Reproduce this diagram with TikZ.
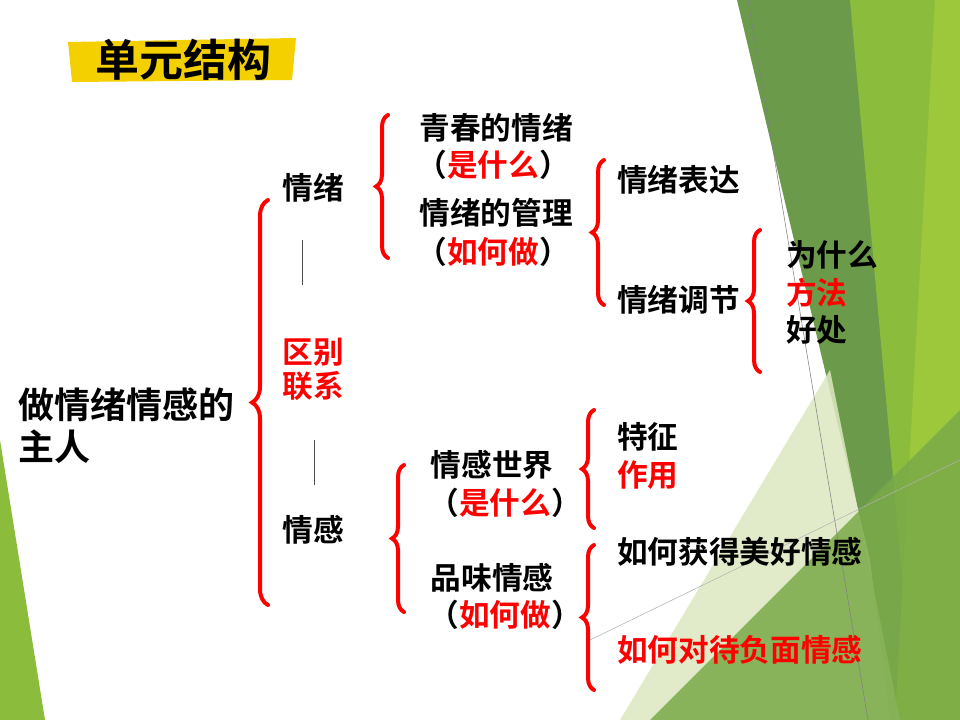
\documentclass[tikz,border=0pt]{standalone}
\usepackage{fontspec}
\setmainfont{Noto Sans CJK SC}[BoldFont={Noto Sans CJK SC Bold}]
\usetikzlibrary{decorations.pathreplacing}
\definecolor{dkgreen}{HTML}{6B9A4A}
\definecolor{ltgreen}{HTML}{8CBC3C}
\definecolor{brgreen}{HTML}{9DC83C}
\definecolor{pale}{HTML}{DDE8C0}
\definecolor{mdgreen}{HTML}{7AAA48}
\definecolor{hl}{HTML}{F5D000}
\begin{document}
\begin{tikzpicture}
[x=0.75pt,y=-0.75pt,
txt/.style={font=\bfseries\fontsize{23}{26}\selectfont,inner sep=0pt},
lt/.style={txt,anchor=west},
hot/.style={text=red},
brc/.style={draw=red,line width=3pt,line cap=round,
  decorate,decoration={brace,amplitude=9pt}},
sep/.style={draw=black!70,thin}]

\useasboundingbox (0,0) rectangle (960,720);
\fill[white] (0,0) rectangle (960,720);

% background
\fill[dkgreen] (737,0) -- (960,0) -- (960,720) -- (890,720) -- (870,560) -- cycle;
\fill[ltgreen] (850,0) -- (960,0) -- (960,720) -- (915,720) -- cycle;
\fill[brgreen] (935,0) -- (960,0) -- (960,720) -- (895,720) -- cycle;
\fill[pale,opacity=0.85] (620,720) -- (830,370) -- (900,720) -- cycle;
\fill[mdgreen,opacity=0.85] (650,720) -- (960,410) -- (960,720) -- cycle;
\draw[gray,thin] (748,0) -- (868,720);
\draw[gray!60,thin] (590,640) -- (960,460);
\fill[ltgreen] (0,440) -- (45,720) -- (0,720) -- cycle;

% title
\fill[hl] (68,42) -- (296,38) -- (292,80) -- (72,82) -- cycle;
\node[font=\bfseries\fontsize{33}{36}\selectfont] (title) at (183,60) {单元结构};

% tree
\node[lt,font=\bfseries\fontsize{27}{30}\selectfont] (root1) at (18,405) {做情绪情感的};
\node[lt,font=\bfseries\fontsize{27}{30}\selectfont] (root2) at (18,447) {主人};
\node[txt] (qx) at (313,188) {情绪};
\node[txt,hot] (qb) at (313,352) {区别};
\node[txt,hot] (lx) at (313,386) {联系};
\node[txt] (qg) at (313,530) {情感};
\draw[sep] (302,240) -- (302,285);
\draw[sep] (314,440) -- (314,485);

\node[txt] (qc) at (496,128) {青春的情绪};
\node[txt] (qc2) at (493,165) {（{\color{red}是什么}）};
\node[txt] (gl) at (496,213) {情绪的管理};
\node[txt] (gl2) at (493,252) {（{\color{red}如何做}）};

\node[lt] (bd) at (617,180) {情绪表达};
\node[lt] (tj) at (617,300) {情绪调节};
\node[lt] (wsm) at (786,255) {为什么};
\node[lt,hot] (ff) at (786,293) {方法};
\node[lt] (hc) at (786,330) {好处};

\node[txt] (sj) at (492,465) {情感世界};
\node[txt] (sj2) at (505,503) {（{\color{red}是什么}）};
\node[txt] (pw) at (492,578) {品味情感};
\node[txt] (pw2) at (505,615) {（{\color{red}如何做}）};

\node[lt] (tz) at (617,437) {特征};
\node[lt,hot] (zy) at (617,475) {作用};
\node[lt] (hd) at (617,552) {如何获得美好情感};
\node[lt,hot] (dd) at (617,650) {如何对待负面情感};

% braces
\draw[brc,decoration={amplitude=12pt}] (268,605) -- (268,200);
\draw[brc] (388,258) -- (388,115);
\draw[brc] (604,305) -- (604,160);
\draw[brc] (760,372) -- (760,230);
\draw[brc] (404,612) -- (404,465);
\draw[brc] (594,528) -- (594,410);
\draw[brc] (594,690) -- (594,545);
\end{tikzpicture}
\end{document}
